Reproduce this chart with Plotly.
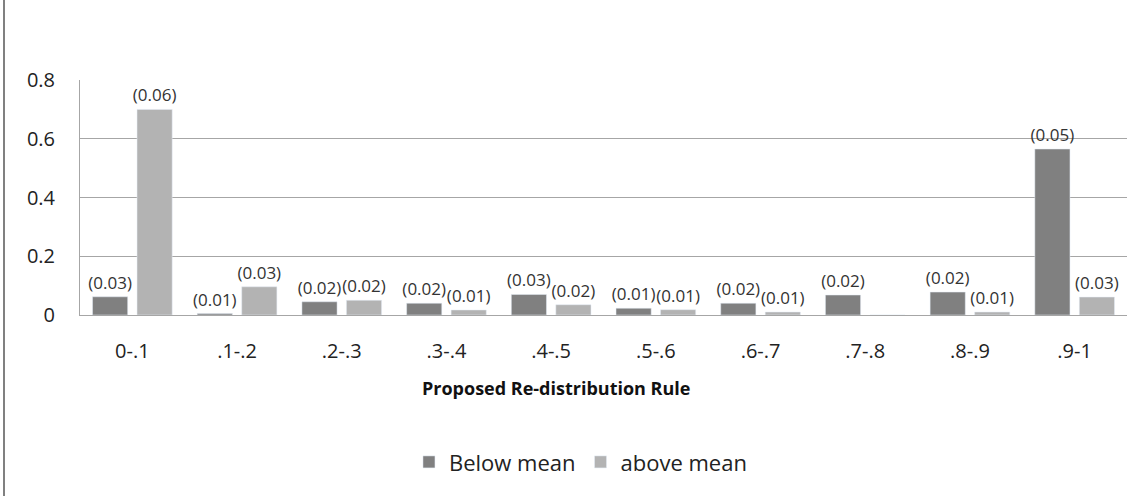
import plotly.graph_objects as go

# Data
categories = ['0-.1', '.1-.2', '.2-.3', '.3-.4', '.4-.5',
              '.5-.6', '.6-.7', '.7-.8', '.8-.9', '.9-1']
below_mean = [0.062, 0.005, 0.045, 0.040, 0.070, 0.023, 0.040, 0.068, 0.078, 0.565]
above_mean = [0.700, 0.096, 0.050, 0.017, 0.035, 0.018, 0.010, 0.0, 0.010, 0.061]
below_labels = ['(0.03)', '(0.01)', '(0.02)', '(0.02)', '(0.03)',
                '(0.01)', '(0.02)', '(0.02)', '(0.02)', '(0.05)']
above_labels = ['(0.06)', '(0.03)', '(0.02)', '(0.01)', '(0.02)',
                '(0.01)', '(0.01)', '', '(0.01)', '(0.03)']

font_family = "Open Sans, Noto Sans, sans-serif"

fig = go.Figure()

fig.add_trace(go.Bar(
    x=categories,
    y=below_mean,
    text=below_labels,
    textposition='outside',
    textfont=dict(size=17, color='#333333', family=font_family),
    constraintext='none',
    cliponaxis=False,
    name='Below mean',
    marker_color='#808080'
))

fig.add_trace(go.Bar(
    x=categories,
    y=above_mean,
    text=above_labels,
    textposition='outside',
    textfont=dict(size=17, color='#333333', family=font_family),
    constraintext='none',
    cliponaxis=False,
    name='above mean',
    marker_color='#b3b3b3'
))

fig.update_layout(
    width=1143,
    height=496,
    barmode='group',
    bargap=0.15,
    bargroupgap=0.21,
    paper_bgcolor='white',
    plot_bgcolor='white',
    margin=dict(l=80, r=16, t=80, b=181, autoexpand=False),
    font=dict(family=font_family, color='#222222'),
    showlegend=True,
    legend=dict(
        orientation='h',
        x=0.478, xanchor='center',
        y=-0.626, yanchor='middle',
        font=dict(size=22, color='#222222'),
        itemwidth=30,
        traceorder='normal'
    ),
    xaxis=dict(
        tickfont=dict(size=20, color='#222222'),
        ticklabelstandoff=18,
        showline=True,
        linecolor='#a6a6a6',
        linewidth=1,
        ticks='',
        showgrid=False,
        zeroline=False
    ),
    yaxis=dict(
        range=[0, 0.8],
        tickvals=[0, 0.2, 0.4, 0.6, 0.8],
        ticktext=['0', '0.2', '0.4', '0.6', '0.8'],
        tickfont=dict(size=20, color='#222222'),
        ticklabelstandoff=20,
        showgrid=True,
        gridcolor='#a6a6a6',
        gridwidth=1,
        showline=True,
        linecolor='#a6a6a6',
        linewidth=1,
        zeroline=False
    ),
    annotations=[dict(
        text='<b>Proposed Re-distribution Rule</b>',
        xref='paper', yref='paper',
        x=(556 - 80) / 1047, y=(315 - 388) / 235,
        xanchor='center', yanchor='middle',
        showarrow=False,
        font=dict(size=18, color='#111111')
    )],
    shapes=[dict(
        type='line', xref='paper', yref='paper',
        x0=(4 - 80) / 1047, x1=(4 - 80) / 1047,
        y0=-181 / 235, y1=1 + 80 / 235,
        line=dict(color='#808080', width=2)
    )]
)

fig.write_html("out.html", config={'displayModeBar': False},
               post_script="document.body.style.margin='0px';")
